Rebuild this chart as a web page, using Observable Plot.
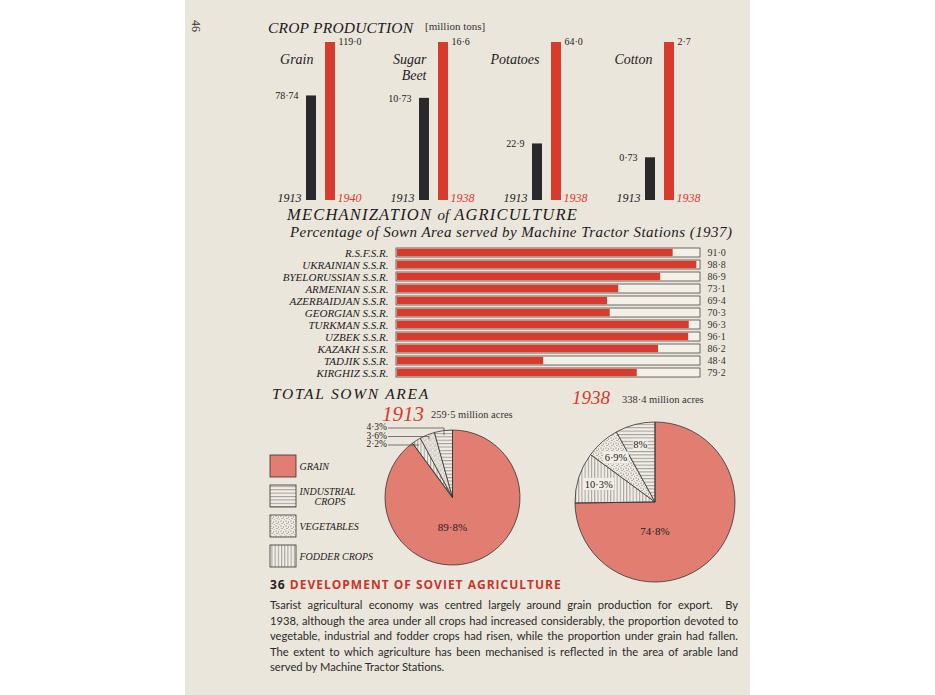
<!DOCTYPE html>
<html><head><meta charset="utf-8">
<script src="https://cdn.jsdelivr.net/npm/d3@7"></script>
<script src="https://cdn.jsdelivr.net/npm/@observablehq/plot@0.6"></script>
<style>
body{margin:0;background:#fff;width:935px;height:695px;overflow:hidden;position:relative;}
#page{position:absolute;left:185px;top:0;width:565px;height:695px;background:#ebe6dc;}
.abs{position:absolute;white-space:nowrap;line-height:1;}
.plot{position:absolute;}
.para{position:absolute;left:270px;top:597px;width:468px;font-family:Lato,"Open Sans",sans-serif;font-size:11.2px;color:#2a2a2a;}
.para div{height:15.5px;line-height:15.5px;text-align:justify;text-align-last:justify;white-space:nowrap;}
.para div.last{text-align-last:left;}
</style></head><body>
<div id="page"></div>
<svg width="0" height="0" style="position:absolute">
<defs>
<pattern id="hlines" patternUnits="userSpaceOnUse" width="6" height="3.4"><rect width="6" height="3.4" fill="#f2eee6"/><line x1="0" y1="0.6" x2="6" y2="0.6" stroke="#555" stroke-width="0.6"/></pattern>
<pattern id="vlines" patternUnits="userSpaceOnUse" width="3.2" height="6"><rect width="3.2" height="6" fill="#f2eee6"/><line x1="0.6" y1="0" x2="0.6" y2="6" stroke="#555" stroke-width="0.6"/></pattern>
<pattern id="dots" patternUnits="userSpaceOnUse" width="5" height="5"><rect width="5" height="5" fill="#efebe2"/><circle cx="1" cy="1" r="0.55" fill="#555"/><circle cx="3.5" cy="2" r="0.5" fill="#555"/><circle cx="2" cy="3.6" r="0.5" fill="#555"/><circle cx="4.2" cy="4.4" r="0.45" fill="#555"/></pattern>
</defs></svg>
<div id="root"></div>
<script>
// ---------- DATA ----------
const crops = ["Grain", "Sugar Beet", "Potatoes", "Cotton"];
const cropNames = ["Grain", "Sugar\nBeet", "Potatoes", "Cotton"];
const prod1913 = [78.74, 10.73, 22.9, 0.73];
const prodLater = [119.0, 16.6, 64.0, 2.7];
const prod1913Labels = ["78·74", "10·73", "22·9", "0·73"];
const prodLaterLabels = ["119·0", "16·6", "64·0", "2·7"];
const laterYears = ["1940", "1938", "1938", "1938"];

const republics = ["R.S.F.S.R.", "UKRAINIAN S.S.R.", "BYELORUSSIAN S.S.R.", "ARMENIAN S.S.R.", "AZERBAIDJAN S.S.R.", "GEORGIAN S.S.R.", "TURKMAN S.S.R.", "UZBEK S.S.R.", "KAZAKH S.S.R.", "TADJIK S.S.R.", "KIRGHIZ S.S.R."];
const mechPct = [91.0, 98.8, 86.9, 73.1, 69.4, 70.3, 96.3, 96.1, 86.2, 48.4, 79.2];
const mechLabels = ["91·0", "98·8", "86·9", "73·1", "69·4", "70·3", "96·3", "96·1", "86·2", "48·4", "79·2"];

const landUse = ["Grain", "Fodder crops", "Vegetables", "Industrial crops"];
const share1913 = [89.8, 2.2, 3.6, 4.3];
const share1938 = [74.8, 10.3, 6.9, 8.0];
const share1913Labels = ["89·8%", "2·2%", "3·6%", "4·3%"];
const share1938Labels = ["74·8%", "10·3%", "6·9%", "8%"];
const legendOrder = ["Grain", "Industrial crops", "Vegetables", "Fodder crops"];
const legendLabels = ["GRAIN", "INDUSTRIAL\n\u2003\u2002CROPS", "VEGETABLES", "FODDER CROPS"];
const landFills = ["#e27d72", "url(#vlines)", "url(#dots)", "url(#hlines)"];

// ---------- helpers ----------
const root = document.getElementById("root");
function place(node, left, top) { node.classList.add("plot"); node.style.left = left + "px"; node.style.top = top + "px"; root.appendChild(node); }
function label(html, left, top, style) { const d = document.createElement("div"); d.className = "abs"; d.innerHTML = html; d.style.left = left + "px"; d.style.top = top + "px"; Object.assign(d.style, style || {}); root.appendChild(d); return d; }
const RED = "#d83a2c", BLACK = "#2a2828";
const calFont = '"Liberation Serif", serif';

// ---------- CROP PRODUCTION ----------
const cropRows = [];
crops.forEach((c, i) => {
  const m = Math.max(prod1913[i], prodLater[i]);
  cropRows.push({crop: c, period: "1913", share: prod1913[i] / m, label: prod1913Labels[i], year: "1913"});
  cropRows.push({crop: c, period: "later", share: prodLater[i] / m, label: prodLaterLabels[i], year: laterYears[i]});
});
const nameRows = crops.map((c, i) => ({crop: c, period: "1913", name: cropNames[i]}));
const early = cropRows.filter(d => d.period === "1913"), late = cropRows.filter(d => d.period === "later");

const cropPlot = Plot.plot({
  width: 935, height: 210, marginLeft: 300, marginRight: 255, marginTop: 42, marginBottom: 10,
  style: {background: "transparent", overflow: "visible", fontFamily: calFont},
  fx: {domain: crops, paddingInner: 0.646, paddingOuter: 0, axis: null, label: null},
  x: {domain: ["1913", "later"], paddingInner: 0.475, paddingOuter: 0.2625, axis: null},
  y: {domain: [0, 1], axis: null},
  color: {domain: ["1913", "later"], range: [BLACK, RED]},
  marks: [
    Plot.barY(cropRows, {fx: "crop", x: "period", y: "share", fill: "period"}),
    Plot.text(nameRows, {fx: "crop", x: "period", frameAnchor: "top", text: "name", textAnchor: "end", lineAnchor: "top", dx: 2, dy: 11, fontSize: 14, fontStyle: "italic", fill: "#222", lineHeight: 1.1}),
    Plot.text(early, {fx: "crop", x: "period", y: "share", text: "label", textAnchor: "end", dx: -13, fontSize: 10, fill: "#222"}),
    Plot.text(late, {fx: "crop", x: "period", y: "share", text: "label", textAnchor: "start", dx: 8, dy: -1, fontSize: 10, fill: "#222"}),
    Plot.text(early, {fx: "crop", x: "period", y: 0, text: "year", textAnchor: "end", lineAnchor: "bottom", dx: -10, dy: 1.5, fontSize: 12, fontStyle: "italic", fill: "#222"}),
    Plot.text(late, {fx: "crop", x: "period", y: 0, text: "year", textAnchor: "start", lineAnchor: "bottom", dx: 7, dy: 1.5, fontSize: 12, fontStyle: "italic", fill: RED})
  ]
});
place(cropPlot, 0, 0);

label("46", 190, 20, {fontFamily: calFont, fontSize: "12px", color: "#333", transform: "rotate(90deg)"});
label("CROP PRODUCTION", 268, 20, {fontFamily: calFont, fontStyle: "italic", fontSize: "15.5px", color: "#1a1a1a", letterSpacing: "0.2px"});
label("[million tons]", 425, 21, {fontFamily: calFont, fontSize: "11px", color: "#333"});

// ---------- MECHANIZATION ----------
label("MECHANIZATION <span style='font-size:15px;letter-spacing:0'>of</span> AGRICULTURE", 287, 207, {fontFamily: calFont, fontStyle: "italic", fontSize: "16.5px", color: "#1a1a1a", letterSpacing: "1.2px"});
label("Percentage of Sown Area served by Machine Tractor Stations (1937)", 290, 225, {fontFamily: calFont, fontStyle: "italic", fontSize: "15px", color: "#1a1a1a", letterSpacing: "0.45px"});

const mech = republics.map((r, i) => ({rep: r, pct: mechPct[i], label: mechLabels[i]}));
const mechPlot = Plot.plot({
  width: 935, height: 145, marginLeft: 396, marginRight: 235, marginTop: 6.7, marginBottom: 6.3,
  style: {background: "transparent", overflow: "visible", fontFamily: calFont},
  x: {domain: [0, 100], axis: null},
  y: {domain: republics, paddingInner: 0.25, paddingOuter: 0.125, axis: null},
  marks: [
    Plot.barX(mech, {x1: 0, x2: 100, y: "rep", fill: "#f4f0e8", stroke: "#4a4a4a", strokeWidth: 0.8}),
    Plot.barX(mech, {x: "pct", y: "rep", fill: RED, insetTop: 0.8, insetBottom: 0.8, insetLeft: 0.8}),
    Plot.axisY({tickSize: 0, tickPadding: 8, fontSize: 11, fontStyle: "italic", fill: "#222", label: null}),
    Plot.text(mech, {x: 100, y: "rep", text: "label", textAnchor: "start", dx: 7, fontSize: 10, fill: "#333"})
  ]
});
place(mechPlot, 0, 240);

// ---------- TOTAL SOWN AREA ----------
label("TOTAL SOWN AREA", 272, 386, {fontFamily: calFont, fontStyle: "italic", fontSize: "15.5px", color: "#1a1a1a", letterSpacing: "1.7px"});
label("1913", 382, 404, {fontFamily: calFont, fontStyle: "italic", fontSize: "21px", color: RED});
label("259·5 million acres", 431, 410, {fontFamily: calFont, fontSize: "10.5px", color: "#333"});
label("1938", 572, 388, {fontFamily: calFont, fontStyle: "italic", fontSize: "19px", color: RED});
label("338·4 million acres", 622, 395, {fontFamily: calFont, fontSize: "10.5px", color: "#333"});

const colorScale = Plot.scale ? Plot.scale({color: {type: "ordinal", domain: landUse, range: landFills}}) : null;
const fillOf = c => colorScale ? colorScale.apply(c) : landFills[landUse.indexOf(c)];

function pieMark(shares, labels, opts) {
  return (index, scales, values, dim) => {
    const r = (dim.width - dim.marginLeft - dim.marginRight) / 2;
    const cx = dim.marginLeft + r, cy = dim.marginTop + r;
    const data = landUse.map((c, i) => ({cat: c, v: shares[i], label: labels[i]}));
    const arcs = d3.pie().sort(null).value(d => d.v)(data);
    const arc = d3.arc().innerRadius(0).outerRadius(r);
    const g = d3.create("svg:g").attr("transform", `translate(${cx},${cy})`);
    g.selectAll("path").data(arcs).join("path")
      .attr("d", arc).attr("fill", d => fillOf(d.data.cat))
      .attr("stroke", d => d.data.cat === "Grain" ? "none" : "#333").attr("stroke-width", 0.8);
    g.append("path").attr("d", arc(arcs[0]))
      .attr("fill", "none").attr("stroke", "#333").attr("stroke-width", 0.8);
    const T = (a, d) => [Math.sin(a) * d, -Math.cos(a) * d];
    const font = g => g.attr("font-family", calFont).attr("font-size", 10.5).attr("fill", "#222");
    g.append("text").call(font).attr("x", 0).attr("y", r * opts.grainDy).attr("text-anchor", "middle").attr("dy", "0.35em").attr("font-size", 11).text(labels[0]);
    arcs.slice(1).forEach((a, k) => {
      const mid = (a.startAngle + a.endAngle) / 2;
      if (opts.outside) {
        const [px, py] = T(mid, r * 0.93);
        const ly = -r - 3 + (2 - k) * 8.5;
        const lx = -r + 3;
        g.append("polyline").attr("points", `${lx},${ly + 1} ${px},${ly + 1} ${px},${py}`).attr("fill", "none").attr("stroke", "#444").attr("stroke-width", 0.7);
        g.append("text").call(font).attr("x", lx - 1).attr("y", ly).attr("dy", "0.35em").attr("text-anchor", "end").attr("font-size", 9.5).text(a.data.label);
      } else {
        const [px, py] = T(mid, r * opts.labelR);
        const t = g.append("text").call(font).attr("x", px).attr("y", py).attr("dy", "0.35em").attr("text-anchor", "middle").text(a.data.label);
        const w = a.data.label.length * 5.6 + 3;
        g.insert("rect", () => t.node()).attr("x", px - w / 2).attr("y", py - 6).attr("width", w).attr("height", 12).attr("fill", "#f2eee6");
      }
    });
    return g.node();
  };
}

const pie1913 = Plot.plot({
  width: 190, height: 160, marginLeft: 45, marginRight: 10, marginTop: 15, marginBottom: 10,
  style: {background: "transparent", overflow: "visible"},
  marks: [pieMark(share1913, share1913Labels, {outside: true, grainDy: 0.44})]
});
place(pie1913, 340, 415);

const pie1938 = Plot.plot({
  width: 170, height: 170, marginLeft: 5, marginRight: 5, marginTop: 5, marginBottom: 5,
  style: {background: "transparent", overflow: "visible"},
  marks: [pieMark(share1938, share1938Labels, {outside: false, grainDy: 0.36, labelR: 0.74})]
});
place(pie1938, 570, 417);

// legend
const legendPlot = Plot.plot({
  width: 200, height: 130, marginLeft: 5, marginRight: 169, marginTop: 5.5, marginBottom: 3,
  style: {background: "transparent", overflow: "visible", fontFamily: calFont},
  y: {domain: legendOrder, paddingInner: 0.27, paddingOuter: 0.13, axis: null},
  color: {domain: landUse, range: landFills},
  marks: [
    Plot.cell(legendOrder, {y: d => d, fill: d => d, stroke: "#333", strokeWidth: 0.8}),
    Plot.axisY({anchor: "right", tickSize: 0, tickPadding: 3, fontSize: 10, fontStyle: "italic", fill: "#222", label: null, tickFormat: d => legendLabels[legendOrder.indexOf(d)]})
  ]
});
place(legendPlot, 265, 445);

// ---------- caption ----------
label("<span style='color:#222'>36</span> DEVELOPMENT OF SOVIET AGRICULTURE", 270, 579, {fontFamily: '"Open Sans", Lato, sans-serif', fontWeight: "700", fontSize: "12px", letterSpacing: "1px", color: "#c9352a"});
const para = document.createElement("div");
para.className = "para";
para.innerHTML = [
  "Tsarist agricultural economy was centred largely around grain production for export.&nbsp; By",
  "1938, although the area under all crops had increased considerably, the proportion devoted to",
  "vegetable, industrial and fodder crops had risen, while the proportion under grain had fallen.",
  "The extent to which agriculture has been mechanised is reflected in the area of arable land",
  "served by Machine Tractor Stations."
].map((l, i, a) => `<div class="${i === a.length - 1 ? "last" : ""}">${l}</div>`).join("");
root.appendChild(para);
</script>
</body></html>
